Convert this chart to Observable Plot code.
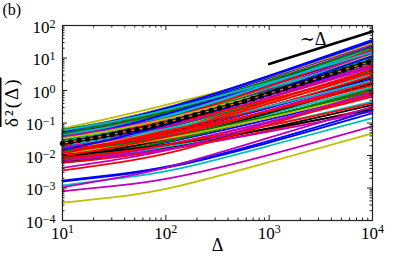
<!DOCTYPE html>
<html><head><meta charset="utf-8">
<script src="https://cdn.jsdelivr.net/npm/d3@7"></script>
<script src="https://cdn.jsdelivr.net/npm/@observablehq/plot@0.6"></script>
<style>
html,body{margin:0;padding:0;background:#fff;}
</style></head><body><div id="chart"></div>
<script>
// lag times (Δ) at which each curve's value was read
const knots = [10, 30, 100, 1000, 10000];
// matplotlib single-letter colour of each curve, in drawing order
const colors = ["y","b","m","c","g","r","k","b","g","r",
  "c","m","y","k","b","g","r","c","m","y",
  "b","g","r","c","m","y","k","r","b","g",
  "r","c","m","r","k","b","g","r","c","m",
  "k","r","y","g","r","m","c","k","b","g",
  "r","m","c","y","r","b","g","r","c","m",
  "y","b","r","g","r","c",
  "r","m","b","b","c","m","m","y"];
// log10 of the time-averaged MSD of each curve at each knot
const logAt10 = [-1.17,-1.33,-1.23,-1.28,-1.31,-1.38,-1.43,-1.35,-1.41,-1.48,
  -1.45,-1.51,-1.53,-1.58,-1.55,-1.61,-1.63,-1.66,-1.68,-1.71,
  -1.73,-1.75,-1.78,-1.81,-1.83,-1.85,-1.88,-1.90,-1.93,-1.95,
  -1.98,-2.00,-2.03,-2.05,-2.08,-2.10,-2.13,-2.15,-2.18,-2.20,
  -2.22,-2.23,-1.25,-1.21,-1.57,-1.77,-1.37,-1.98,-1.49,-1.88,
  -2.08,-2.15,-1.68,-1.93,-1.83,-1.28,-1.53,-1.68,-1.58,-1.41,
  -1.48,-1.83,-2.01,-1.33,-1.93,-1.23,
  -2.46,-2.38,-2.77,-2.80,-2.92,-2.98,-3.10,-3.45];
const logAt30 = [-0.85,-1.00,-0.94,-0.99,-1.03,-1.07,-1.16,-1.03,-1.11,-1.19,
  -1.19,-1.20,-1.24,-1.31,-1.24,-1.32,-1.37,-1.35,-1.42,-1.41,
  -1.44,-1.50,-1.50,-1.56,-1.54,-1.59,-1.64,-1.62,-1.69,-1.73,
  -1.72,-1.79,-1.78,-1.84,-1.84,-1.90,-1.90,-1.96,-2.01,-1.99,
  -2.05,-2.08,-0.95,-0.96,-1.35,-1.43,-1.12,-1.87,-1.17,-1.71,
  -1.93,-2.03,-1.48,-1.76,-1.63,-0.96,-1.26,-1.34,-1.25,-1.19,
  -1.23,-1.50,-1.77,-1.03,-1.66,-0.97,
  -2.25,-2.15,-2.60,-2.63,-2.72,-2.72,-2.95,-3.30];
const logAt100 = [-0.45,-0.59,-0.56,-0.63,-0.68,-0.68,-0.81,-0.63,-0.72,-0.81,
  -0.85,-0.80,-0.86,-0.96,-0.85,-0.95,-1.02,-0.97,-1.09,-1.03,
  -1.08,-1.17,-1.14,-1.24,-1.16,-1.25,-1.32,-1.26,-1.37,-1.43,
  -1.37,-1.49,-1.45,-1.56,-1.52,-1.62,-1.60,-1.69,-1.75,-1.71,
  -1.81,-1.85,-0.56,-0.62,-1.06,-1.02,-0.78,-1.69,-0.76,-1.45,
  -1.70,-1.82,-1.21,-1.50,-1.36,-0.57,-0.91,-0.92,-0.84,-0.90,
  -0.90,-1.09,-1.45,-0.66,-1.31,-0.63,
  -2.00,-1.90,-2.40,-2.43,-2.55,-2.42,-2.77,-3.08];
const logAt1000 = [0.35,0.44,0.38,0.29,0.22,0.29,0.08,0.37,0.24,0.13,
  0.01,0.18,0.08,-0.07,0.13,-0.02,-0.16,0.00,-0.24,-0.09,
  -0.16,-0.33,-0.24,-0.41,-0.23,-0.40,-0.50,-0.35,-0.55,-0.66,
  -0.51,-0.74,-0.62,-0.82,-0.70,-0.91,-0.82,-0.99,-1.10,-0.97,
  -1.17,-1.24,0.40,0.22,-0.30,0.03,0.07,-1.19,0.25,-0.80,
  -1.09,-1.28,-0.50,-0.85,-0.65,0.42,-0.02,0.12,0.19,-0.14,
  -0.07,-0.06,-0.65,0.29,-0.42,0.23,
  -1.05,-1.00,-1.57,-1.62,-1.70,-1.45,-2.00,-2.20];
const logAt10000 = [1.25,1.56,1.41,1.31,1.21,1.36,1.06,1.46,1.29,1.16,
  0.96,1.26,1.11,0.91,1.21,1.01,0.81,1.06,0.71,0.96,
  0.86,0.61,0.76,0.51,0.81,0.56,0.41,0.66,0.36,0.21,
  0.46,0.11,0.31,0.01,0.21,-0.09,0.06,-0.19,-0.34,-0.14,
  -0.44,-0.54,1.46,1.16,0.56,1.16,1.01,-0.59,1.36,-0.04,
  -0.39,-0.64,0.31,-0.09,0.16,1.51,0.96,1.26,1.31,0.71,
  0.86,1.06,0.26,1.33,0.56,1.19,
  -0.10,-0.05,-0.60,-0.70,-0.85,-0.50,-1.10,-1.32];
// ensemble mean (dotted black curve)
const meanDelta = [10,12,14.5,17.4,20.9,25.1,30.2,36.3,43.7,52.5,63.1,75.9,91.2,110,132,158,191,229,275,331,398,479,575,692,832,1000,1202,1445,1738,2089,2512,3020,3631,4365,5248,6310,7586,9120];
const meanLog = [-1.63,-1.58,-1.53,-1.49,-1.45,-1.40,-1.35,-1.30,-1.25,-1.20,-1.15,-1.09,-1.03,-0.96,-0.89,-0.82,-0.75,-0.68,-0.61,-0.54,-0.47,-0.40,-0.33,-0.25,-0.17,-0.09,-0.01,0.07,0.15,0.23,0.31,0.39,0.47,0.55,0.63,0.71,0.79,0.87];
// ~Δ guide line
const guideDelta = [1000, 10000];
const guideMSD = [6.5, 65];
const guideLabel = "∼Δ";
const guideLabelAt = {delta: 2660, msd: 38};
// axes
const xMajor = [10, 100, 1000, 10000];
const yMajor = [1e-4, 1e-3, 1e-2, 1e-1, 1, 10, 100];
const xLabel = "Δ";
const yLabel = "δ²(Δ)";
const panelLabel = "(b)";

const palette = {b:"#0000ff", g:"#008000", r:"#ff0000", c:"#00bfbf", m:"#bf00bf", y:"#bfbf00", k:"#000000"};
const cols = [logAt10, logAt30, logAt100, logAt1000, logAt10000];
const curves = [];
colors.forEach((c, i) => knots.forEach((k, j) => curves.push({id: i, delta: k, msd: Math.pow(10, cols[j][i]), color: palette[c]})));
const mean = meanDelta.map((d, i) => ({delta: d, msd: Math.pow(10, meanLog[i])}));
const guide = guideDelta.map((d, i) => ({delta: d, msd: guideMSD[i]}));
const notDecade = v => Math.abs(Math.log10(v) - Math.round(Math.log10(v))) > 1e-6;
const xMinor = d3.scaleLog().domain([10, 1e4]).ticks().filter(notDecade);
const yMinor = d3.scaleLog().domain([1e-4, 1e2]).ticks().filter(notDecade);

const W = 415, H = 260, mL = 62, mR = 43, mT = 25, mB = 40;
const fw = W - mL - mR, fh = H - mT - mB;
const serif = "'Liberation Serif', 'DejaVu Serif', serif";
const fmt = d => "10^" + String(Math.round(Math.log10(d))).replace("-", "−");
const axisC = "#222";

const plot = Plot.plot({
  width: W, height: H, marginLeft: mL, marginRight: mR, marginTop: mT, marginBottom: mB,
  style: {fontFamily: serif, fontSize: "17px", background: "#fff", color: "#000"},
  x: {type: "log", domain: [10, 1e4], label: null},
  y: {type: "log", domain: [1e-4, 1e2], label: null},
  color: {type: "identity"},
  marks: [
    Plot.line(curves, {x: "delta", y: "msd", z: "id", stroke: "color", strokeWidth: 1.8, curve: "basis"}),
    Plot.line(mean, {x: "delta", y: "msd", stroke: "#000", strokeWidth: 3.2}),
    Plot.line(mean, {x: "delta", y: "msd", stroke: "#e08a00", strokeWidth: 1.3}),
    Plot.dot(mean, {x: "delta", y: "msd", r: 2.7, fill: "#000", stroke: null}),
    Plot.line(guide, {x: "delta", y: "msd", stroke: "#000", strokeWidth: 2.6}),
    Plot.text([guideLabelAt], {x: "delta", y: "msd", text: () => guideLabel, fontSize: 18}),
    Plot.tickX(xMajor, {x: d => d, insetTop: fh - 5, stroke: axisC}),
    Plot.tickX(xMajor, {x: d => d, insetBottom: fh - 5, stroke: axisC}),
    Plot.tickX(xMinor, {x: d => d, insetTop: fh - 2.5, stroke: axisC}),
    Plot.tickX(xMinor, {x: d => d, insetBottom: fh - 2.5, stroke: axisC}),
    Plot.tickY(yMajor, {y: d => d, insetRight: fw - 5, stroke: axisC}),
    Plot.tickY(yMajor, {y: d => d, insetLeft: fw - 5, stroke: axisC}),
    Plot.tickY(yMinor, {y: d => d, insetRight: fw - 2.5, stroke: axisC}),
    Plot.tickY(yMinor, {y: d => d, insetLeft: fw - 2.5, stroke: axisC}),
    Plot.frame({stroke: axisC, strokeWidth: 1.2}),
    Plot.axisX({ticks: xMajor, tickSize: 0, tickPadding: 6, tickFormat: fmt, label: null}),
    Plot.axisY({ticks: yMajor, tickSize: 0, tickPadding: 7, tickFormat: fmt, label: null, dy: 2}),
    Plot.text([xLabel], {frameAnchor: "bottom", dy: 30, fontSize: 18}),
    Plot.text([yLabel], {frameAnchor: "left", dx: -51, dy: 4, rotate: -90, fontSize: 19}),
    Plot.text([panelLabel], {frameAnchor: "top-left", dx: -60, dy: -22, textAnchor: "start", lineAnchor: "top", fontSize: 16})
  ]
});

plot.querySelectorAll("text").forEach(t => {
  const s = t.textContent;
  const m = s.match(/^10\^(.+)$/);
  if (m) {
    t.textContent = "10";
    const ts = document.createElementNS("http://www.w3.org/2000/svg", "tspan");
    ts.setAttribute("dy", "-0.45em");
    ts.setAttribute("font-size", "12");
    ts.textContent = m[1];
    t.appendChild(ts);
  } else if (s === yLabel) {
    t.style.textDecoration = "overline";
    t.style.letterSpacing = "2px";
  }
});
document.getElementById("chart").appendChild(plot);
</script>
</body></html>
